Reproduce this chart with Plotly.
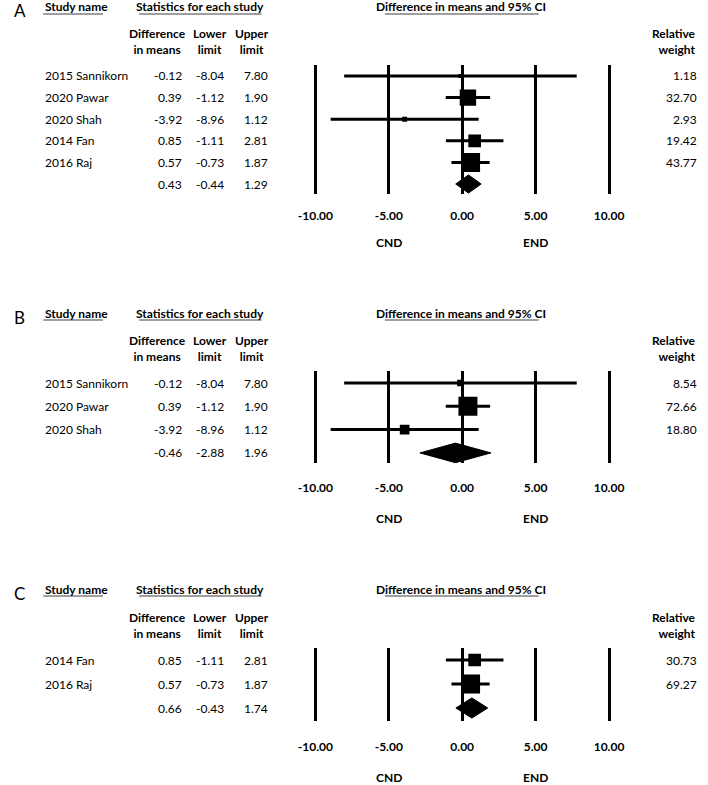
import plotly.graph_objects as go

# ---------------- data ----------------
A_studies = ["2015 Sannikorn", "2020 Pawar", "2020 Shah", "2014 Fan", "2016 Raj"]
A_diff = [-0.12, 0.39, -3.92, 0.85, 0.57]
A_lower = [-8.04, -1.12, -8.96, -1.11, -0.73]
A_upper = [7.80, 1.90, 1.12, 2.81, 1.87]
A_weight = [1.18, 32.70, 2.93, 19.42, 43.77]
A_summary = [0.43, -0.44, 1.29]

B_studies = ["2015 Sannikorn", "2020 Pawar", "2020 Shah"]
B_diff = [-0.12, 0.39, -3.92]
B_lower = [-8.04, -1.12, -8.96]
B_upper = [7.80, 1.90, 1.12]
B_weight = [8.54, 72.66, 18.80]
B_summary = [-0.46, -2.88, 1.96]

C_studies = ["2014 Fan", "2016 Raj"]
C_diff = [0.85, 0.57]
C_lower = [-1.11, -0.73]
C_upper = [2.81, 1.87]
C_weight = [30.73, 69.27]
C_summary = [0.66, -0.43, 1.74]

panel_labels = ["A", "B", "C"]
tick_vals = [-10, -5, 0, 5, 10]
tick_labels = ["-10.00", "-5.00", "0.00", "5.00", "10.00"]
side_labels = ["CND", "END"]
side_positions = [-5, 5]

# ---------------- layout geometry (window pixels) ----------------
W, H = 708, 785
FONT = "Lato"
panels = [
    dict(lab=panel_labels[0], st=A_studies, d=A_diff, lo=A_lower, up=A_upper, w=A_weight, s=A_summary,
         hdr=7, ch=42, top=65, bot=194, r0=76, sp=21.6, tick=216, cnd=243),
    dict(lab=panel_labels[1], st=B_studies, d=B_diff, lo=B_lower, up=B_upper, w=B_weight, s=B_summary,
         hdr=313, ch=348.5, top=371, bot=463, r0=383, sp=23.3, tick=488, cnd=518),
    dict(lab=panel_labels[2], st=C_studies, d=C_diff, lo=C_lower, up=C_upper, w=C_weight, s=C_summary,
         hdr=589, ch=625.5, top=648, bot=721, r0=660, sp=24.0, tick=747, cnd=777),
]

PX_PER_UNIT = 15.0
X0_PX = 463.0
XR = [-10.6, 10.6]


def px(x):
    return x / W


def py(y):
    return 1 - y / H


x_dom = [px(X0_PX + XR[0] * PX_PER_UNIT), px(X0_PX + XR[1] * PX_PER_UNIT)]

fig = go.Figure()
annotations = []
shapes = []
BLACK = "#000000"
UL = "#7f7f7f"

for i, p in enumerate(panels):
    k = "" if i == 0 else str(i + 1)
    xa, ya = "x" + k, "y" + k
    n = len(p["st"])
    rows = list(range(n))
    srow = n

    # CI lines
    lx, ly = [], []
    for r in rows:
        lx += [p["lo"][r], p["up"][r], None]
        ly += [r, r, None]
    fig.add_trace(go.Scatter(x=lx, y=ly, mode="lines", line=dict(color=BLACK, width=3),
                             xaxis=xa, yaxis=ya, hoverinfo="skip", showlegend=False))
    # squares (weight-scaled)
    wmax = max(p["w"])
    sizes = [max(4.0, 19.0 * (wv / wmax) ** 0.5) for wv in p["w"]]
    fig.add_trace(go.Scatter(x=p["d"], y=rows, mode="markers",
                             marker=dict(symbol="square", size=sizes, color=BLACK, opacity=1,
                                         line=dict(width=0)),
                             xaxis=xa, yaxis=ya, showlegend=False))
    # summary diamond
    m, lo, hi = p["s"]
    h = 0.42
    fig.add_trace(go.Scatter(x=[lo, m, hi, m, lo], y=[srow, srow - h, srow, srow + h, srow],
                             mode="lines", fill="toself", fillcolor=BLACK,
                             line=dict(color=BLACK, width=1), xaxis=xa, yaxis=ya,
                             hoverinfo="skip", showlegend=False))

    # axes
    ytop = (p["top"] - p["r0"]) / p["sp"]
    ybot = (p["bot"] - p["r0"]) / p["sp"]
    fig.update_layout(**{
        ("xaxis" + k): dict(domain=x_dom, range=XR, anchor=ya, tickmode="array",
                            tickvals=tick_vals, ticktext=tick_labels, showgrid=True,
                            gridcolor=BLACK, gridwidth=3, zeroline=False, showline=False,
                            ticks="", ticklabelstandoff=p["tick"] - p["bot"] - 9,
                            tickfont=dict(family=FONT, size=12, color=BLACK, weight="bold"),
                            fixedrange=True),
        ("yaxis" + k): dict(domain=[py(p["bot"]), py(p["top"])], range=[ybot, ytop],
                            showgrid=False, zeroline=False, showticklabels=False,
                            showline=False, ticks="", fixedrange=True),
    })

    bold = dict(family=FONT, size=12, color=BLACK, weight="bold")
    reg = dict(family=FONT, size=12, color=BLACK)

    # panel label
    annotations.append(dict(text=p["lab"], x=px(3), y=py(p["hdr"] + 4), xref="paper", yref="paper",
                            xanchor="left", yanchor="middle", showarrow=False,
                            font=dict(family=FONT, size=17, color=BLACK)))
    # top headers with underlines
    for txt, xc, x1, x2, anc in [("Study name", 35, 35, 96, "left"),
                                 ("Statistics for each study", 195.5, 133, 258, "center"),
                                 ("Difference in means and 95% CI", 462, 384, 541, "center")]:
        annotations.append(dict(text=txt, x=px(xc), y=py(p["hdr"]), xref="paper", yref="paper",
                                xanchor=anc, yanchor="middle", showarrow=False, font=bold))
        shapes.append(dict(type="line", xref="paper", yref="paper", x0=px(x1), x1=px(x2),
                           y0=py(p["hdr"] + 7), y1=py(p["hdr"] + 7), line=dict(color=UL, width=1.5)))
    # column headers
    for txt, xc in [("Difference<br>in means", 152), ("Lower<br>limit", 205), ("Upper<br>limit", 248)]:
        annotations.append(dict(text=txt, x=px(xc), y=py(p["ch"]), xref="paper", yref="paper",
                                xanchor="center", yanchor="middle", align="center",
                                showarrow=False, font=bold))
    annotations.append(dict(text="Relative<br>weight", x=px(704), y=py(p["ch"]), xref="paper",
                            yref="paper", xanchor="right", yanchor="middle", align="right",
                            showarrow=False, font=bold))
    # study rows
    for r in rows:
        annotations.append(dict(text=p["st"][r], x=px(35), y=r, xref="paper", yref=ya,
                                xanchor="left", yanchor="middle", showarrow=False, font=reg))
        for val, xr in [(p["d"][r], 179), (p["lo"][r], 222), (p["up"][r], 267)]:
            annotations.append(dict(text=f"{val:.2f}", x=px(xr), y=r, xref="paper", yref=ya,
                                    xanchor="right", yanchor="middle", showarrow=False, font=reg))
        annotations.append(dict(text=f"{p['w'][r]:.2f}", x=px(705), y=r, xref="paper", yref=ya,
                                xanchor="right", yanchor="middle", showarrow=False, font=reg))
    # summary row
    for val, xr in [(m, 179), (lo, 222), (hi, 267)]:
        annotations.append(dict(text=f"{val:.2f}", x=px(xr), y=srow, xref="paper", yref=ya,
                                xanchor="right", yanchor="middle", showarrow=False, font=reg))
    # CND / END
    for txt, xv in zip(side_labels, side_positions):
        annotations.append(dict(text=txt, x=xv, y=py(p["cnd"]), xref=xa, yref="paper",
                                xanchor="center", yanchor="middle", showarrow=False, font=bold))

fig.update_layout(width=W, height=H, margin=dict(l=0, r=0, t=0, b=0),
                  paper_bgcolor="white", plot_bgcolor="white",
                  annotations=annotations, shapes=shapes, showlegend=False)

fig.write_html("out.html", config={"displayModeBar": False},
               post_script="document.body.style.margin='0px';document.body.style.overflow='hidden';")
